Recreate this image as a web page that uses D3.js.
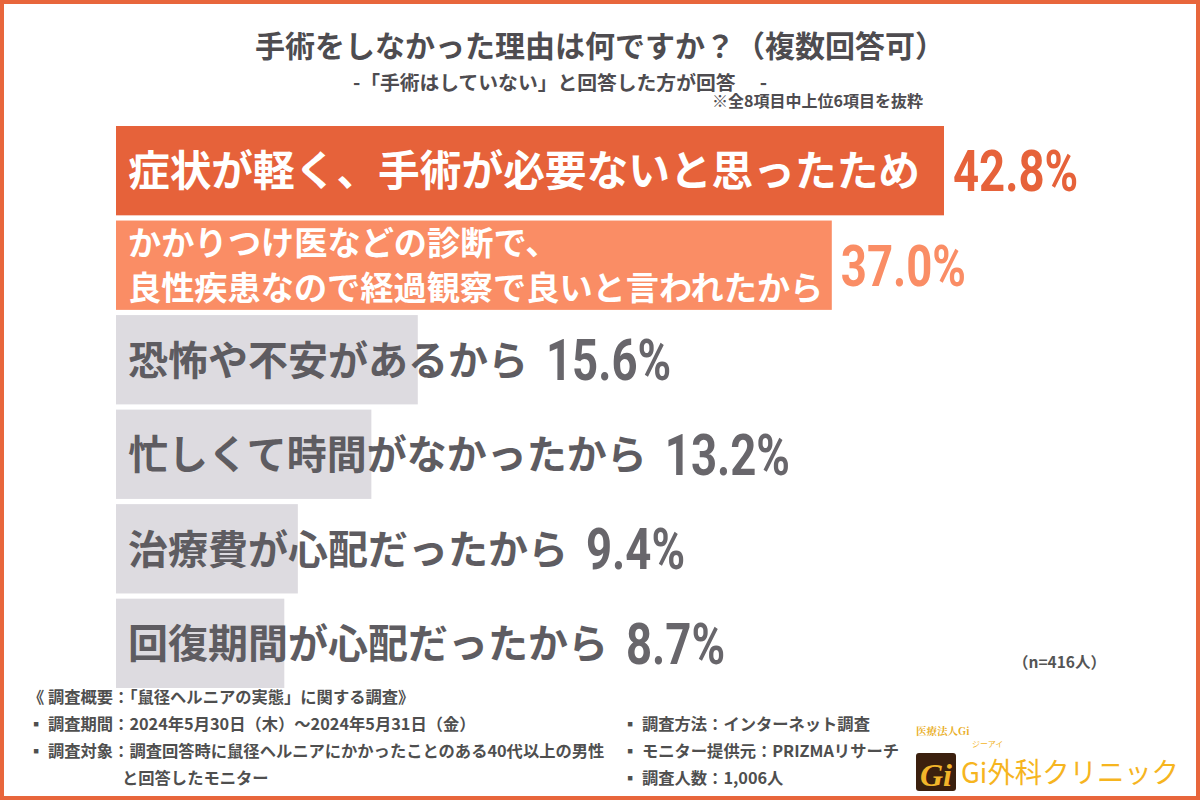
<!DOCTYPE html>
<html><head><meta charset="utf-8">
<script src="https://cdn.jsdelivr.net/npm/d3@7"></script>
<style>
html,body{margin:0;padding:0;background:#fff;}
svg{display:block;font-family:"Noto Sans CJK JP","Noto Sans",sans-serif;}
text{white-space:pre;}
</style></head><body>
<svg id="chart" width="1200" height="800"></svg>
<script>
// ---- data ----
const title = "手術をしなかった理由は何ですか？（複数回答可）";
const subtitle = "-「手術はしていない」と回答した方が回答　 -";
const note = "※全8項目中上位6項目を抜粋";
const sampleNote = "（n=416人）";
const categories = [
  "症状が軽く、手術が必要ないと思ったため",
  "かかりつけ医などの診断で、\n良性疾患なので経過観察で良いと言われたから",
  "恐怖や不安があるから",
  "忙しくて時間がなかったから",
  "治療費が心配だったから",
  "回復期間が心配だったから"
];
const values = [42.8, 37.0, 15.6, 13.2, 9.4, 8.7];
const footerLeft = [
  "《 調査概要：「鼠径ヘルニアの実態」に関する調査》",
  "▪ 調査期間：2024年5月30日（木）～2024年5月31日（金）",
  "▪ 調査対象：調査回答時に鼠径ヘルニアにかかったことのある40代以上の男性",
  "と回答したモニター"
];
const footerRight = [
  "▪ 調査方法：インターネット調査",
  "▪ モニター提供元：PRIZMAリサーチ",
  "▪ 調査人数：1,006人"
];
const logoTexts = ["医療法人Gi", "ジーアイ", "Gi外科クリニック", "Gi"];

// ---- drawing ----
const svg = d3.select("#chart");
const W = 1200, H = 800;
svg.append("rect").attr("width", W).attr("height", H).attr("fill", "#fff");
svg.append("rect").attr("x", 2).attr("y", 2).attr("width", W - 4).attr("height", H - 4)
  .attr("fill", "none").attr("stroke", "#E8663C").attr("stroke-width", 4);

const textGray = "#4E4C50";
svg.append("text").attr("x", 600).attr("y", 57).attr("text-anchor", "middle")
  .attr("font-size", 30).attr("font-weight", 700).attr("fill", textGray).text(title);
svg.append("text").attr("x", 560).attr("y", 90).attr("text-anchor", "middle")
  .attr("font-size", 19.8).attr("font-weight", 700).attr("fill", textGray).text(subtitle);
svg.append("text").attr("x", 923).attr("y", 107).attr("text-anchor", "end")
  .attr("font-size", 16).attr("font-weight", 700).attr("fill", textGray).text(note);

const x = d3.scaleLinear().domain([0, d3.max(values)]).range([116, 944]);
const y = d3.scaleBand().domain(d3.range(categories.length)).range([126, 688]).paddingInner(0.055).paddingOuter(0);

const barColor = d3.scaleOrdinal().domain([0, 1, 2]).range(["#E6623A", "#FA8D65", "#DDDBE0"]);
const valColor = d3.scaleOrdinal().domain([0, 1, 2]).range(["#E6623A", "#FA8D65", "#68666B"]);
const lblColor = d3.scaleOrdinal().domain([0, 1, 2]).range(["#FFFFFF", "#FFFFFF", "#5E5C61"]);
const kind = i => Math.min(i, 2);
const lblSize = i => i === 0 ? 41.7 : (i === 1 ? 33.2 : 40);

const g = svg.append("g");
const rows = g.selectAll("g.row").data(values).join("g").attr("class", "row");

rows.append("rect")
  .attr("x", x(0))
  .attr("y", (d, i) => y(i))
  .attr("width", d => x(d) - x(0))
  .attr("height", y.bandwidth())
  .attr("fill", (d, i) => barColor(kind(i)));

const fmt = d3.format(".1f");
rows.each(function (d, i) {
  const row = d3.select(this);
  const lines = categories[i].split("\n");
  const fs = lblSize(i);
  const cy = y(i) + y.bandwidth() / 2;
  const lineGap = 45;
  let maxEnd = 0;
  lines.forEach((ln, k) => {
    const lc = cy + (k - (lines.length - 1) / 2) * lineGap;
    const t = row.append("text")
      .attr("x", 128)
      .attr("y", lc + fs * 0.37)
      .attr("font-size", fs).attr("font-weight", 700)
      .attr("fill", lblColor(kind(i)))
      .text(ln);
    maxEnd = Math.max(maxEnd, 128 + t.node().getComputedTextLength());
  });
  const barEnd = x(d);
  const vx = maxEnd <= barEnd + 2 ? barEnd + 9 : maxEnd + 18;
  row.append("text")
    .attr("transform", `translate(${vx},${cy + 20.5}) scale(0.785,1)`)
    .attr("font-family", "Roboto, 'DejaVu Sans', sans-serif")
    .attr("font-size", 58).attr("font-weight", 700)
    .attr("fill", valColor(kind(i)))
    .text(fmt(d) + "%");
});

svg.append("text").attr("x", 1013).attr("y", 668)
  .attr("font-size", 15.5).attr("font-weight", 700).attr("fill", "#555").text(sampleNote);

// footer
const footY = [703, 730, 757, 784];
svg.append("g").selectAll("text").data(footerLeft).join("text")
  .attr("x", (d, i) => i === 3 ? 122 : 28)
  .attr("y", (d, i) => footY[i])
  .attr("font-size", 16.3).attr("font-weight", 700).attr("fill", "#4F4F4F")
  .text(d => d);
svg.append("g").selectAll("text").data(footerRight).join("text")
  .attr("x", 622)
  .attr("y", (d, i) => footY[i + 1])
  .attr("font-size", 16.3).attr("font-weight", 700).attr("fill", "#4F4F4F")
  .text(d => d);

// logo
const logo = svg.append("g");
logo.append("text").attr("x", 916).attr("y", 735).attr("font-size", 10.5)
  .attr("font-family", "'Noto Serif CJK JP','Noto Sans CJK JP',serif")
  .attr("font-weight", 700).attr("fill", "#E9AE25").text(logoTexts[0]);
logo.append("rect").attr("x", 916).attr("y", 753).attr("width", 40).attr("height", 38).attr("rx", 3)
  .attr("fill", "#3B200E");
logo.append("text").attr("x", 936).attr("y", 786).attr("text-anchor", "middle")
  .attr("font-size", 32).attr("font-style", "italic").attr("font-weight", 700)
  .attr("font-family", "'Liberation Serif','DejaVu Serif',serif")
  .attr("fill", "#F2B52A").text(logoTexts[3]);
logo.append("text").attr("x", 972).attr("y", 747).attr("font-size", 8)
  .attr("fill", "#F2B52A").text(logoTexts[1]);
logo.append("text").attr("x", 961).attr("y", 783).attr("font-size", 28)
  .attr("fill", "#F6B51F").attr("font-weight", 400)
  .attr("textLength", 218).attr("lengthAdjust", "spacingAndGlyphs")
  .text(logoTexts[2]);
</script>
</body></html>
